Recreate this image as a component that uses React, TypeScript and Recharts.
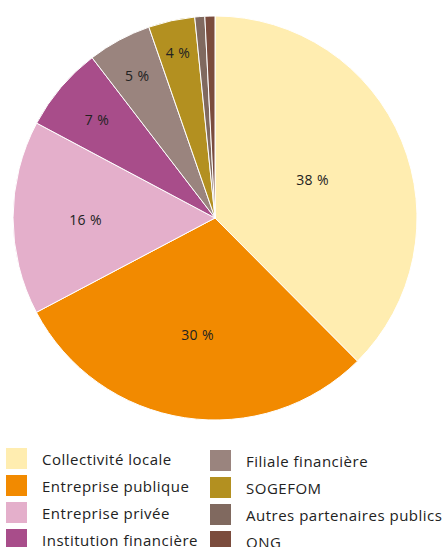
import { PieChart, Pie, Cell, Legend } from 'recharts'

const categories = [
  'Collectivité locale',
  'Entreprise publique',
  'Entreprise privée',
  'Institution financière',
  'Filiale financière',
  'SOGEFOM',
  'Autres partenaires publics',
  'ONG',
]
const shares = [37.5, 29.7, 15.5, 6.8, 5.1, 3.7, 0.8, 0.8]
const colors = ['#ffedb0', '#f28a00', '#e4afcb', '#a84d8a', '#9a847e', '#b39020', '#80695f', '#7b4c3d']

const data = categories.map((name, i) => ({ name, value: shares[i] }))

const FONT = "'Open Sans', sans-serif"
const RAD = Math.PI / 180

// label radius: sector centroid for big slices, pushed outward for small ones
function renderLabel(props: any) {
  const { cx, cy, midAngle, outerRadius, percent } = props
  const pct = percent * 100
  if (pct < 2) return null
  const a = percent * 2 * Math.PI
  const centroid = (4 * Math.sin(a / 2)) / (3 * a)
  const frac = Math.max(centroid, 0.95 - 0.027 * pct)
  const r = outerRadius * frac
  const x = cx + r * Math.cos(-midAngle * RAD)
  const y = cy + r * Math.sin(-midAngle * RAD) + 2
  return (
    <text x={x} y={y} textAnchor="middle" dominantBaseline="central" fill="#222" fontSize={14} letterSpacing={0.4} fontFamily={FONT}>
      {Math.round(pct)} %
    </text>
  )
}

function LegendBox() {
  const col = (start: number, left: number, top: number) => (
    <div style={{ position: 'absolute', left, top }}>
      {categories.slice(start, start + 4).map((name, j) => (
        <div key={name} style={{ display: 'flex', alignItems: 'center', height: 27 }}>
          <div style={{ width: 21, height: 21, background: colors[start + j], marginRight: 15 }} />
          <span style={{ fontSize: 15, letterSpacing: 0.5, color: '#222', fontFamily: FONT, whiteSpace: 'nowrap' }}>{name}</span>
        </div>
      ))}
    </div>
  )
  return (
    <div style={{ position: 'relative', width: 445, height: 110 }}>
      {col(0, 6, 0)}
      {col(4, 210, 2)}
    </div>
  )
}

export default function App() {
  return (
    <div style={{ position: 'absolute', left: 0, top: 0, width: 445, height: 547, overflow: 'hidden', background: '#fff' }}>
      <PieChart width={445} height={547} margin={{ top: 0, right: 0, bottom: 0, left: 0 }}>
        <Pie
          data={data}
          dataKey="value"
          nameKey="name"
          cx={215}
          cy={218}
          outerRadius={202}
          startAngle={90}
          endAngle={-270}
          stroke="#fff"
          strokeWidth={1}
          label={renderLabel}
          labelLine={false}
          isAnimationActive={false}
        >
          {data.map((d, i) => (
            <Cell key={d.name} fill={colors[i]} />
          ))}
        </Pie>
        <Legend
          content={() => <LegendBox />}
          wrapperStyle={{ position: 'absolute', left: 0, top: 445, width: 445 }}
        />
      </PieChart>
    </div>
  )
}
